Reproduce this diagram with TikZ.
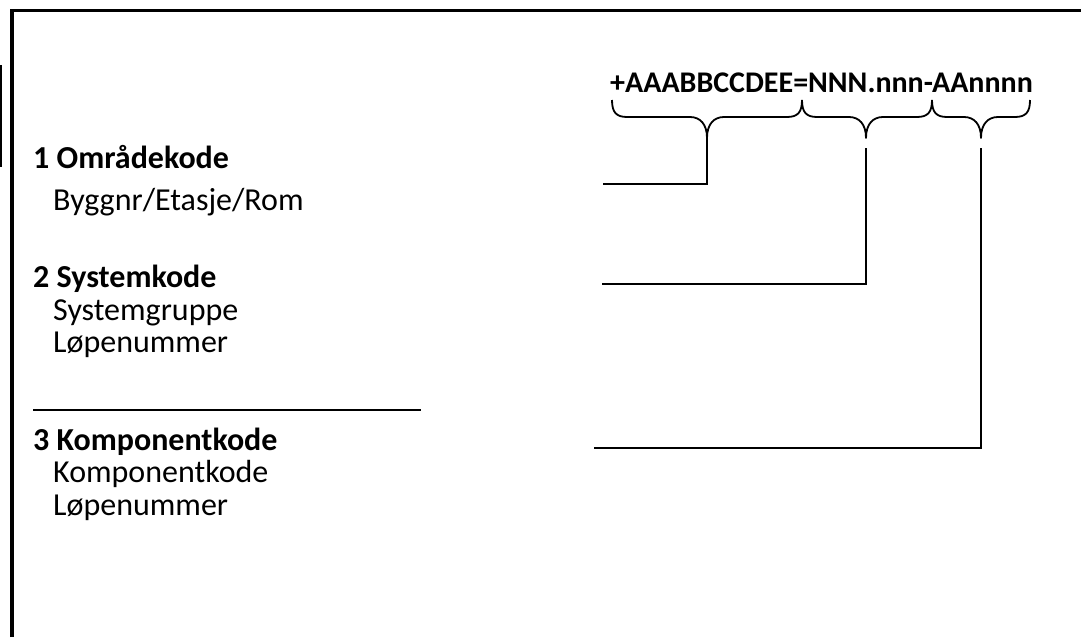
\documentclass[tikz,border=0pt]{standalone}
\usepackage{fontspec}
\setmainfont{Carlito}
\newcommand\hbrace[3]{%
  \draw[brace] (#1,100) .. controls (#1,112) and (#1+4,117) .. (#1+15,117)
    -- (#2-17,117) .. controls (#2-7,117) and (#2,124) .. (#2,138)
    .. controls (#2,124) and (#2+7,117) .. (#2+17,117)
    -- (#3-15,117) .. controls (#3-4,117) and (#3,112) .. (#3,100);}
\begin{document}
\begin{tikzpicture}[x=1pt,y=-1pt,
  head/.style={anchor=base west, inner sep=0pt, font=\fontsize{32}{38}\selectfont\bfseries},
  sub/.style={anchor=base west, inner sep=0pt, font=\fontsize{32}{38}\selectfont},
  code/.style={anchor=base west, inner sep=0pt, font=\fontsize{30}{36}\selectfont\bfseries},
  brace/.style={line width=1.8pt, line join=round},
  conn/.style={line width=1.8pt},
  frame/.style={line width=3.5pt}]
\useasboundingbox (0,0) rectangle (1081,637);
\draw[frame] (12,637) -- (12,10.5) -- (1081,10.5);
\draw[line width=1.6pt] (0.8,65) -- (0.8,167);

\node[code] (code) at (610,92) {+AAABBCCDEE=NNN.nnn-AAnnnn};

\hbrace{612}{707}{802}
\hbrace{802}{866}{932}
\hbrace{932}{981}{1030}

\node[head] (h1) at (33,168) {1 Områdekode};
\node[sub]  (s11) at (53,210) {Byggnr/Etasje/Rom};
\node[head] (h2) at (33,287) {2 Systemkode};
\node[sub]  (s21) at (53,320) {Systemgruppe};
\node[sub]  (s22) at (53,352) {Løpenummer};
\node[head] (h3) at (33,450) {3 Komponentkode};
\node[sub]  (s31) at (53,482) {Komponentkode};
\node[sub]  (s32) at (53,515) {Løpenummer};

\coordinate (sepA) at (33,410);
\coordinate (sepB) at (421,410);
\draw[line width=1.2pt] (sepA) -- (sepB);

\coordinate (t1) at (707,138);
\coordinate (e1) at (603,184);
\coordinate (t2) at (866,148);
\coordinate (e2) at (602,284);
\coordinate (t3) at (981,148);
\coordinate (e3) at (594,448);
\draw[conn] (t1) |- (e1);
\draw[conn] (t2) |- (e2);
\draw[conn] (t3) |- (e3);
\end{tikzpicture}
\end{document}
